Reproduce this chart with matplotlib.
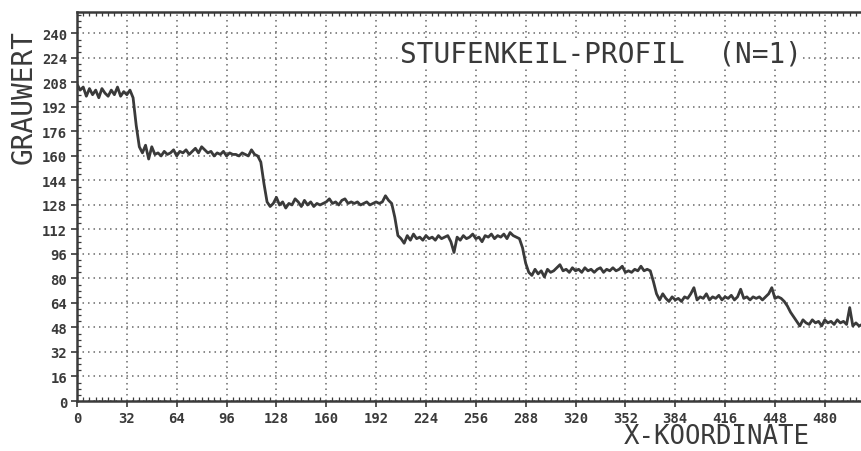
import numpy as np
import matplotlib
matplotlib.use("Agg")
import matplotlib.pyplot as plt
from matplotlib.ticker import MultipleLocator

stufe_1 = [207, 203, 205, 199, 204, 200, 203, 198, 204, 201, 199, 203, 200, 205, 199, 202, 200, 203,
           198, 180, 166, 162]
stufe_2 = [167, 158, 166, 161, 162, 160, 163, 161, 162, 164, 160, 163, 162, 164, 161, 163, 165, 162,
           166, 164, 162, 163, 160, 162, 161, 163, 160, 162, 161, 161, 160, 162, 161, 160, 164, 161, 160,
           156, 142, 130]
stufe_3 = [127, 129, 133, 128, 130, 126, 129, 128, 132, 130, 127, 131, 128, 130, 127, 129, 128, 129,
           130, 132, 129, 130, 128, 131, 132, 129, 130, 129, 130, 128, 129, 130, 128, 129, 130, 129, 130,
           134, 131, 129, 120, 108]
stufe_4 = [106, 103, 108, 105, 109, 106, 107, 105, 108, 106, 107, 105, 108, 106, 107, 108, 104, 97,
           107, 105, 108, 106, 107, 109, 106, 107, 104, 108, 107, 109, 106, 108, 107, 109, 106, 110, 108,
           107, 106, 100, 90, 84]
stufe_5 = [82, 86, 83, 85, 81, 86, 84, 85, 87, 89, 85, 86, 84, 87, 85, 86, 84, 87, 85, 86, 84, 86,
           87, 84, 86, 85, 87, 85, 86, 88, 84, 85, 84, 86, 85, 88, 85, 86, 85, 78, 70]
stufe_6 = [66, 70, 67, 65, 68, 66, 67, 65, 68, 67, 70, 74, 66, 68, 67, 70, 66, 68, 67, 69, 66, 68,
           67, 69, 66, 68, 73, 67, 68, 66, 68, 67, 68, 66, 68, 70, 74, 67, 68, 67, 65, 62, 58, 55]
stufe_7 = [52, 49, 53, 51, 50, 53, 51, 52, 49, 53, 51, 52, 50, 53, 51, 52, 50, 61, 49, 51, 49, 50]

grauwert = stufe_1 + stufe_2 + stufe_3 + stufe_4 + stufe_5 + stufe_6 + stufe_7
x_koord = np.arange(len(grauwert)) * 2

x_ticks = list(range(0, 481, 32))
y_ticks = list(range(0, 241, 16))

ink = "#3a3a3a"
mono = "DejaVu Sans Mono"

fig = plt.figure(figsize=(8.62, 4.52), dpi=100)
ax = fig.add_axes([77 / 862, 1 - 402 / 452, 1 - 77 / 862 + 0.002, (402 - 13) / 452])

ax.plot(x_koord, grauwert, color=ink, linewidth=2.0, zorder=3)

ax.set_xlim(0, 505)
ax.set_ylim(0, 254)
ax.set_xticks(x_ticks)
ax.set_yticks(y_ticks)
ax.xaxis.set_minor_locator(MultipleLocator(4))
ax.yaxis.set_minor_locator(MultipleLocator(4))

ax.grid(True, which="major", color="#6a6a6a", linestyle=(0, (1, 2.6)), linewidth=1.1)
ax.tick_params(which="major", direction="out", length=4, width=1.2, color=ink,
               labelsize=10, labelcolor=ink, pad=3)
ax.tick_params(which="minor", direction="in", length=3, width=0.9, color=ink,
               top=True, bottom=True, left=True)
for lab in ax.get_xticklabels() + ax.get_yticklabels():
    lab.set_fontfamily(mono)
    lab.set_fontweight("bold")

for side in ["left", "bottom", "top"]:
    ax.spines[side].set_linewidth(1.8)
    ax.spines[side].set_color(ink)
ax.spines["right"].set_visible(False)

ax.text(601 / 862, 1 - 55 / 452, "STUFENKEIL-PROFIL  (N=1)", transform=fig.transFigure,
        ha="center", va="center", fontsize=20, family=mono, color=ink,
        bbox=dict(facecolor="white", edgecolor="none", pad=1), zorder=4)
fig.text(717 / 862, 1 - 437 / 452, "X-KOORDINATE", ha="center", va="center",
         fontsize=18.5, family=mono, color=ink)
fig.text(24 / 862, 1 - 97 / 452, "GRAUWERT", ha="center", va="center", rotation=90,
         fontsize=20, family=mono, color=ink)

fig.savefig("out.png", dpi=100, facecolor="white")
